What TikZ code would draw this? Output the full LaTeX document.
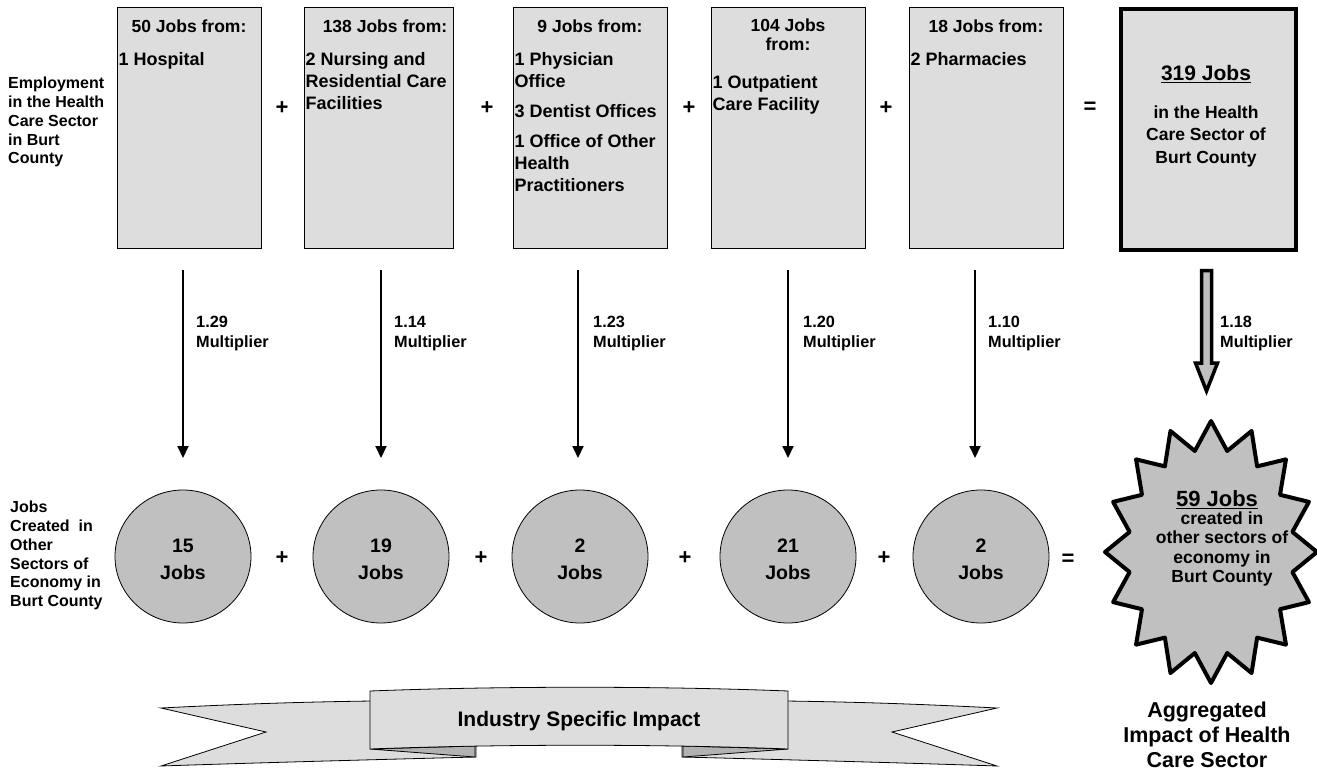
\documentclass[tikz,border=0pt]{standalone}
\usepackage{fontspec}
\setmainfont{Liberation Sans}
\usetikzlibrary{arrows.meta,calc,shapes.geometric}
\definecolor{boxgray}{HTML}{DDDDDD}
\definecolor{midgray}{HTML}{C0C0C0}
\definecolor{foldgray}{HTML}{B2B2B2}
\newcommand{\fsz}[2]{\fontsize{#1}{#2}\selectfont\bfseries}
\begin{document}
\begin{tikzpicture}[x=1pt,y=-1pt,
  jobbox/.style={draw=black, line width=0.8pt, fill=boxgray, minimum height=241pt, inner sep=0pt, anchor=north west},
  bigbox/.style={draw=black, line width=4pt, fill=boxgray, minimum width=175pt, minimum height=241pt, inner sep=0pt, anchor=north west},
  boxtitle/.style={inner sep=0pt, align=center, font=\fsz{17.5}{19}},
  boxitem/.style={inner sep=0pt, anchor=north west, align=left, font=\fsz{18}{22}},
  sidelabel/.style={inner sep=0pt, anchor=north west, align=left, font=\fsz{16}{18.8}},
  multlabel/.style={inner sep=0pt, anchor=north west, align=left, font=\fsz{16.3}{20}},
  opsign/.style={inner sep=0pt, font=\fsz{22}{24}},
  jobcircle/.style={draw=black, line width=0.8pt, fill=midgray, ellipse, minimum width=136pt, minimum height=133pt},
  circletext/.style={inner sep=0pt, align=center, font=\fsz{19.5}{27}},
  multarrow/.style={line width=2pt, -{Triangle[length=12pt,width=11pt]}},
  fatarrow/.style={draw=black, line width=3.5pt, fill=midgray, line join=miter},
  starsty/.style={draw=black, line width=4pt, fill=midgray, line join=round},
  bandsty/.style={draw=black, line width=0.8pt, fill=boxgray},
  foldsty/.style={draw=black, line width=0.8pt, fill=foldgray},
]
\useasboundingbox (0,0) rectangle (1317,773);

% ---------- side labels ----------
\node[sidelabel] (lab1) at (8,77) {Employment\\in the Health\\Care Sector\\in Burt\\County};
\node[sidelabel] (lab2) at (10,501) {Jobs\\Created\ \ in\\Other\\Sectors of\\Economy in\\Burt County};

% ---------- top boxes ----------
\node[jobbox, minimum width=144pt] (b1) at (117,7) {};
\node[jobbox, minimum width=149pt] (b2) at (304,7) {};
\node[jobbox, minimum width=154pt] (b3) at (513,7) {};
\node[jobbox, minimum width=154pt] (b4) at (711,7) {};
\node[jobbox, minimum width=154pt] (b5) at (909,7) {};
\node[bigbox] (b6) at (1119,7) {};

\node[boxtitle] (t1) at (189,26) {50 Jobs from:};
\node[boxtitle] (t2) at (385,26) {138 Jobs from:};
\node[boxtitle] (t3) at (590,26) {9 Jobs from:};
\node[boxtitle] (t4) at (788,34.5) {104 Jobs\\from:};
\node[boxtitle] (t5) at (986,26) {18 Jobs from:};

\node[boxitem] (i1) at (118.5,52.5) {1 Hospital};
\node[boxitem] (i2) at (305.5,52.5) {2 Nursing and\\Residential Care\\Facilities};
\node[boxitem] (i3) at (514.5,52.5) {1 Physician\\Office\\[8pt]3 Dentist Offices\\[8pt]1 Office of Other\\Health\\Practitioners};
\node[boxitem] (i4) at (712.5,75.5) {1 Outpatient\\Care Facility};
\node[boxitem] (i5) at (910.5,52.5) {2 Pharmacies};

\node[inner sep=0pt, font=\fsz{21}{24}] (t6) at (1206,74) {\underline{319 Jobs}};
\node[inner sep=0pt, align=center, font=\fsz{17.5}{22.5}] (i6) at (1206,136) {in the Health\\Care Sector of\\Burt County};

% operators top row
\node[opsign] (p1) at (282,108) {+};
\node[opsign] (p2) at (487,108) {+};
\node[opsign] (p3) at (689,108) {+};
\node[opsign] (p4) at (886,108) {+};
\node[opsign] (e1) at (1090,108) {=};

% ---------- circles ----------
\node[jobcircle] (c1) at (183,556.5) {};
\node[jobcircle] (c2) at (381,556.5) {};
\node[jobcircle] (c3) at (580,556.5) {};
\node[jobcircle] (c4) at (788,556.5) {};
\node[jobcircle] (c5) at (981,556.5) {};
\node[circletext] (ct1) at (183,559) {15\\Jobs};
\node[circletext] (ct2) at (381,559) {19\\Jobs};
\node[circletext] (ct3) at (580,559) {2\\Jobs};
\node[circletext] (ct4) at (788,559) {21\\Jobs};
\node[circletext] (ct5) at (981,559) {2\\Jobs};

\node[opsign] (p5) at (282,558) {+};
\node[opsign] (p6) at (481,558) {+};
\node[opsign] (p7) at (685,558) {+};
\node[opsign] (p8) at (884,558) {+};
\node[opsign] (e2) at (1068,560) {=};

% ---------- multiplier arrows ----------
\coordinate (a1s) at (183,270); \coordinate (a1e) at (183,458);
\coordinate (a2s) at (381,270); \coordinate (a2e) at (381,458);
\coordinate (a3s) at (578,270); \coordinate (a3e) at (578,458);
\coordinate (a4s) at (788,270); \coordinate (a4e) at (788,458);
\coordinate (a5s) at (975,270); \coordinate (a5e) at (975,458);
\draw[multarrow] (a1s) -- (a1e);
\draw[multarrow] (a2s) -- (a2e);
\draw[multarrow] (a3s) -- (a3e);
\draw[multarrow] (a4s) -- (a4e);
\draw[multarrow] (a5s) -- (a5e);

\node[multlabel] (m1) at (196,316) {1.29\\Multiplier};
\node[multlabel] (m2) at (394,316) {1.14\\Multiplier};
\node[multlabel] (m3) at (593,316) {1.23\\Multiplier};
\node[multlabel] (m4) at (803,316) {1.20\\Multiplier};
\node[multlabel] (m5) at (988,316) {1.10\\Multiplier};
\node[multlabel] (m6) at (1220,316) {1.18\\Multiplier};

% fat arrow
\draw[fatarrow] (1201.5,270.5) -- (1211.5,270.5) -- (1211.5,363) -- (1217.5,363)
  -- (1206.5,391) -- (1195.5,363) -- (1201.5,363) -- cycle;

% ---------- star ----------
\coordinate (S) at (1211,552);
\draw[starsty] ($(S)+(90:106 and 131)$)
  \foreach \i in {0,...,15}{ -- ($(S)+({101.25+\i*22.5}:83 and 103)$) -- ($(S)+({112.5+\i*22.5}:106 and 131)$) } -- cycle;
\node[inner sep=0pt, font=\fsz{22}{24}] (st1) at (1217,500) {\underline{59 Jobs}};
\node[inner sep=0pt, align=center, font=\fsz{17.5}{19.3}] (st2) at (1222,549) {created in\\other sectors of\\economy in\\Burt County};

\node[inner sep=0pt, align=center, font=\fsz{21.5}{25}] (agg) at (1207,735) {Aggregated\\Impact of Health\\Care Sector};

% ---------- banner ----------
\draw[bandsty] (161,708) .. controls (240,704) and (300,702) .. (372,701) -- (476,701) -- (476,757)
  .. controls (360,760) and (250,763) .. (161,766) -- (266,732) -- cycle;
\draw[bandsty] (997,708) .. controls (918,704) and (858,702) .. (786,701) -- (682,701) -- (682,757)
  .. controls (798,760) and (908,763) .. (997,766) -- (892,732) -- cycle;
\draw[foldsty] (370,749) -- (475,757) -- (475,746) -- cycle;
\draw[foldsty] (788,749) -- (683,757) -- (683,746) -- cycle;
\draw[bandsty] (370,691) .. controls (500,686) and (660,686) .. (788,691) -- (788,749)
  .. controls (660,744) and (500,744) .. (370,749) -- cycle;
\node[inner sep=0pt, font=\fsz{21}{24}] (bannertext) at (579,721) {Industry Specific Impact};

\end{tikzpicture}
\end{document}
